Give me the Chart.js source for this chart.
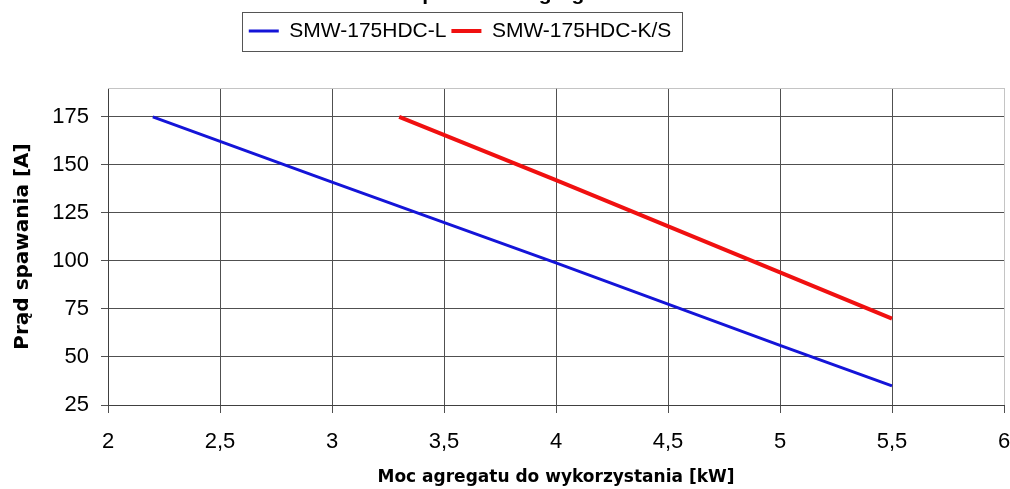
<!DOCTYPE html>
<html>
<head>
<meta charset="utf-8">
<script src="https://cdn.jsdelivr.net/npm/chart.js@4/dist/chart.umd.min.js"></script>
<style>
  html, body { margin: 0; padding: 0; background: #fff; }
  #wrap { width: 1010px; height: 489px; position: relative; }
</style>
</head>
<body>
<div id="wrap"><canvas id="powerChart"></canvas></div>
<script>
const chartTitle = 'Spawanie z agregatu';
const seriesNames = ['SMW-175HDC-L', 'SMW-175HDC-K/S'];

// power of generator [kW] and welding current [A]
const kwL = [2.2, 3, 4, 5, 5.5];
const ampL = [175, 141, 99, 56, 35];
const kwKS = [3.3, 4, 5, 5.5];
const ampKS = [175, 142, 94, 70];

const xTicks = [2, 2.5, 3, 3.5, 4, 4.5, 5, 5.5, 6];
const xTickLabels = ['2', '2,5', '3', '3,5', '4', '4,5', '5', '5,5', '6'];
const yTicks = [25, 50, 75, 100, 125, 150, 175];

const arial = '"Liberation Sans", Arial, sans-serif';
const boldTitle = '"DejaVu Sans", Verdana, sans-serif';
const gridDark = '#505050';
const gridLight = '#c4c4c4';

function toPoints(xs, ys) {
    return xs.map((x, i) => ({ x: x, y: ys[i] }));
}

const framePlugin = {
    id: 'frame',
    afterLayout(chart) {
        // put the legend row up near the top, centred over 460
        const lg = chart.legend;
        if (lg) {
            const h = lg.height;
            lg.top = 15.5;
            lg.bottom = lg.top + h;
            lg.left = 0;
            lg.right = 920;
        }
    },
    beforeDatasetsDraw(chart) {
        const { ctx, chartArea } = chart;
        ctx.save();
        ctx.strokeStyle = gridLight;
        ctx.lineWidth = 1;
        ctx.beginPath();
        ctx.moveTo(chartArea.left, Math.round(chartArea.top) + 0.5);
        ctx.lineTo(chartArea.right + 1, Math.round(chartArea.top) + 0.5);
        ctx.stroke();
        ctx.restore();
    },
    afterDraw(chart) {
        const ctx = chart.ctx;
        const lg = chart.legend;
        ctx.save();
        if (lg && lg.legendHitBoxes && lg.legendHitBoxes.length) {
            const hb = lg.legendHitBoxes;
            const last = hb[hb.length - 1];
            const left = Math.round(hb[0].left - 7) + 0.5;
            const right = Math.round(last.left + last.width + 11) + 0.5;
            ctx.strokeStyle = '#555';
            ctx.lineWidth = 1;
            ctx.strokeRect(left, 12.5, right - left, 39);
        }
        // title sits mostly above the picture, only its descenders show
        ctx.fillStyle = '#000';
        ctx.font = 'bold 21px ' + arial;
        ctx.textAlign = 'center';
        ctx.textBaseline = 'alphabetic';
        ctx.fillText(chartTitle, 512, 0);
        ctx.restore();
    }
};

const ctx = document.getElementById('powerChart').getContext('2d');

new Chart(ctx, {
    type: 'line',
    data: {
        datasets: [{
            label: seriesNames[0],
            data: toPoints(kwL, ampL),
            borderColor: '#1414d8',
            backgroundColor: '#1414d8',
            borderWidth: 3,
            pointRadius: 0,
            tension: 0
        }, {
            label: seriesNames[1],
            data: toPoints(kwKS, ampKS),
            borderColor: '#f01010',
            backgroundColor: '#f01010',
            borderWidth: 4,
            pointRadius: 0,
            tension: 0
        }]
    },
    options: {
        responsive: true,
        maintainAspectRatio: false,
        animation: false,
        layout: {
            padding: { top: 52, right: 6, bottom: 0, left: 0 }
        },
        plugins: {
            title: { display: false },
            tooltip: { enabled: false },
            legend: {
                display: true,
                position: 'top',
                labels: {
                    usePointStyle: true,
                    pointStyle: 'line',
                    pointStyleWidth: 30,
                    padding: 5,
                    color: '#000',
                    font: { family: arial, size: 21 }
                }
            }
        },
        scales: {
            x: {
                type: 'linear',
                min: 2,
                max: 6,
                afterBuildTicks: (axis) => {
                    axis.ticks = xTicks.map(v => ({ value: v }));
                },
                afterFit: (scale) => {
                    scale.height = 84;
                    scale.paddingLeft = 0;
                    scale.paddingRight = 0;
                },
                ticks: {
                    color: '#000',
                    padding: 16,
                    maxRotation: 0,
                    font: { family: arial, size: 22 },
                    callback: (value, index) => xTickLabels[index]
                },
                grid: {
                    color: (c) => (c.tick && c.tick.value === 6 ? gridLight : gridDark),
                    tickColor: gridDark,
                    tickLength: 8,
                    lineWidth: 1
                },
                border: { display: true, color: '#404040', width: 1 },
                title: {
                    display: true,
                    text: 'Moc agregatu do wykorzystania [kW]',
                    color: '#000',
                    font: { family: boldTitle, size: 17, weight: 'bold' },
                    padding: { top: 0, bottom: 1 }
                }
            },
            y: {
                min: 25,
                max: 190,
                afterBuildTicks: (axis) => {
                    axis.ticks = yTicks.map(v => ({ value: v }));
                },
                afterFit: (scale) => {
                    scale.width = 108;
                },
                ticks: {
                    color: '#000',
                    padding: 12,
                    font: { family: arial, size: 22 }
                },
                grid: {
                    color: gridDark,
                    tickColor: gridDark,
                    tickLength: 7,
                    lineWidth: 1
                },
                border: { display: true, color: '#404040', width: 1 },
                title: {
                    display: true,
                    text: 'Prąd spawania [A]',
                    color: '#000',
                    font: { family: boldTitle, size: 20, weight: 'bold' },
                    padding: { top: 11, bottom: 0 }
                }
            }
        }
    },
    plugins: [framePlugin]
});
</script>
</body>
</html>
